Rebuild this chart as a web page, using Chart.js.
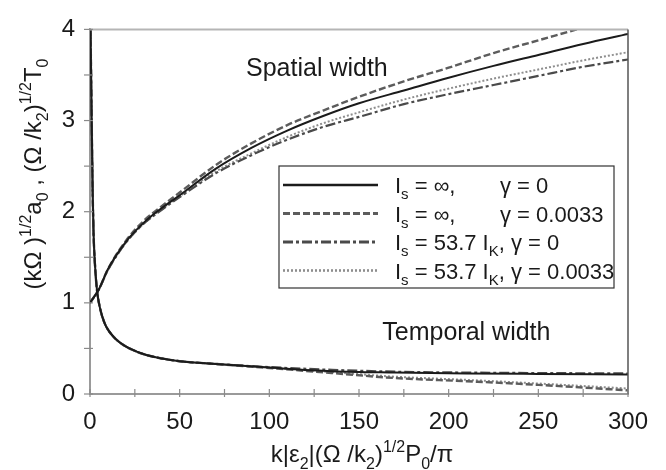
<!DOCTYPE html>
<html>
<head>
<meta charset="utf-8">
<script src="https://cdn.jsdelivr.net/npm/chart.js@4.4.1/dist/chart.umd.min.js"></script>
<style>
  html, body { margin: 0; padding: 0; background: #fff; }
  #wrap { width: 666px; height: 470px; }
</style>
</head>
<body>
<div id="wrap"><canvas id="chart" width="666" height="470"></canvas></div>
<script>
// ---- data ----
const xSpatial = [0, 5, 10, 20, 30, 40, 50, 70, 90, 110, 130, 150, 175, 200, 225, 250, 275, 300];
const spatialSolid   = [1.0, 1.15, 1.37, 1.67, 1.88, 2.04, 2.18, 2.47, 2.70, 2.89, 3.05, 3.19, 3.33, 3.47, 3.60, 3.72, 3.84, 3.95];
const spatialDashed  = [1.0, 1.15, 1.37, 1.68, 1.90, 2.06, 2.21, 2.51, 2.75, 2.95, 3.11, 3.26, 3.43, 3.58, 3.74, 3.88, 4.02, 4.15];
const spatialDashDot = [1.0, 1.15, 1.36, 1.66, 1.87, 2.02, 2.16, 2.42, 2.62, 2.79, 2.93, 3.04, 3.18, 3.29, 3.39, 3.49, 3.59, 3.67];
const spatialDotted  = [1.0, 1.15, 1.36, 1.66, 1.87, 2.03, 2.17, 2.44, 2.64, 2.82, 2.97, 3.09, 3.23, 3.35, 3.46, 3.56, 3.66, 3.75];

const xTemporal = [0.3, 1, 1.5, 2, 3, 4, 5.5, 7, 9, 13, 17, 22, 31, 40, 50, 70, 100, 135, 170, 210, 250, 300];
const temporalSolid   = [4.0, 2.9, 2.2, 1.75, 1.35, 1.12, 0.95, 0.84, 0.74, 0.63, 0.56, 0.50, 0.43, 0.39, 0.36, 0.33, 0.29, 0.25, 0.235, 0.225, 0.22, 0.215];
const temporalDashed  = [4.0, 2.9, 2.2, 1.75, 1.35, 1.12, 0.95, 0.84, 0.74, 0.63, 0.56, 0.50, 0.43, 0.39, 0.36, 0.33, 0.285, 0.23, 0.175, 0.14, 0.10, 0.04];
const temporalDashDot = [4.0, 2.9, 2.2, 1.75, 1.35, 1.12, 0.95, 0.84, 0.74, 0.63, 0.56, 0.50, 0.43, 0.39, 0.36, 0.33, 0.295, 0.265, 0.245, 0.235, 0.23, 0.225];
const temporalDotted  = [4.0, 2.9, 2.2, 1.75, 1.35, 1.12, 0.95, 0.84, 0.74, 0.63, 0.56, 0.50, 0.43, 0.39, 0.36, 0.33, 0.29, 0.24, 0.19, 0.155, 0.115, 0.06];

const xTickStep = 25, xLabelStep = 50;
const yTickStep = 0.5;

// rich text pieces: [text, kind]  kind: '' | 'sub' | 'sup' | 'tab'
const legendLabels = [
  [['I', ''], ['s', 'sub'], [' = \u221E,', ''], ['', 'tab'], ['\u03B3 = 0', '']],
  [['I', ''], ['s', 'sub'], [' = \u221E,', ''], ['', 'tab'], ['\u03B3 = 0.0033', '']],
  [['I', ''], ['s', 'sub'], [' = 53.7 I', ''], ['K', 'sub'], [', \u03B3 = 0', '']],
  [['I', ''], ['s', 'sub'], [' = 53.7 I', ''], ['K', 'sub'], [', \u03B3 = 0.0033', '']]
];
const xTitle = [['k|\u03B5', ''], ['2', 'sub'], ['|(\u03A9 /k', ''], ['2', 'sub'], [')', ''], ['1/2', 'sup'], ['P', ''], ['0', 'sub'], ['/\u03C0', '']];
const yTitle = [['(k\u03A9 )', ''], ['1/2', 'sup'], ['a', ''], ['0', 'sub'], [' , (\u03A9 /k', ''], ['2', 'sub'], [')', ''], ['1/2', 'sup'], ['T', ''], ['0', 'sub']];
const annotations = [
  { text: 'Spatial width', x: 87, y: 3.49 },
  { text: 'Temporal width', x: 163, y: 0.59 }
];

const FONT = '"Liberation Sans", Arial, Helvetica, sans-serif';

const styles = [
  { color: '#1b1b1b', dash: [], width: 2 },
  { color: '#5c5c5c', dash: [7, 3], width: 2.4 },
  { color: '#4a4a4a', dash: [10, 3, 3, 3], width: 2.2 },
  { color: '#8e8e8e', dash: [2, 2], width: 2 }
];

function pts(xs, ys) {
  return xs.map((x, i) => ({ x: x, y: ys[i] }));
}

function makeSet(xs, ys, s) {
  return {
    data: pts(xs, ys),
    borderColor: s.color,
    borderDash: s.dash,
    borderWidth: s.width,
    pointRadius: 0,
    fill: false,
    cubicInterpolationMode: 'monotone'
  };
}

const spatial = [spatialSolid, spatialDashed, spatialDashDot, spatialDotted];
const temporal = [temporalSolid, temporalDashed, temporalDashDot, temporalDotted];
const datasets = [];
styles.forEach((s, i) => {
  datasets.push(makeSet(xSpatial, spatial[i], s));
  datasets.push(makeSet(xTemporal, temporal[i], s));
});

function richWidth(ctx, segs, size) {
  let w = 0;
  segs.forEach(([t, k]) => {
    if (k === 'tab') return;
    ctx.font = ((k === 'sub' || k === 'sup') ? Math.round(size * 0.68) : size) + 'px ' + FONT;
    w += ctx.measureText(t).width;
  });
  return w;
}

function drawRich(ctx, segs, x, y, size, tabX) {
  let cx = x;
  ctx.textBaseline = 'alphabetic';
  ctx.textAlign = 'left';
  segs.forEach(([t, k]) => {
    if (k === 'tab') { cx = tabX; return; }
    let dy = 0, sz = size;
    if (k === 'sub') { sz = Math.round(size * 0.68); dy = size * 0.28; }
    if (k === 'sup') { sz = Math.round(size * 0.68); dy = -size * 0.42; }
    ctx.font = sz + 'px ' + FONT;
    ctx.fillText(t, cx, y + dy);
    cx += ctx.measureText(t).width;
  });
}

// frame, inner ticks, titles, annotations, legend
const decor = {
  id: 'decor',
  afterDatasetsDraw(chart) {
    const ctx = chart.ctx;
    const a = chart.chartArea;
    const xs = chart.scales.x, ys = chart.scales.y;
    ctx.save();

    // top and right frame
    ctx.strokeStyle = '#b5b5b5';
    ctx.lineWidth = 2;
    ctx.beginPath(); ctx.moveTo(a.left, a.top); ctx.lineTo(a.right, a.top); ctx.stroke();
    ctx.strokeStyle = '#555';
    ctx.lineWidth = 1.5;
    ctx.beginPath(); ctx.moveTo(a.right, a.top); ctx.lineTo(a.right, a.bottom); ctx.stroke();

    // tick marks crossing the axes
    ctx.strokeStyle = '#8a8a8a';
    ctx.lineWidth = 1.2;
    xs.ticks.forEach(t => {
      const px = xs.getPixelForValue(t.value);
      ctx.beginPath(); ctx.moveTo(px, a.bottom - 5); ctx.lineTo(px, a.bottom + 3); ctx.stroke();
    });
    ys.ticks.forEach(t => {
      const py = ys.getPixelForValue(t.value);
      ctx.beginPath(); ctx.moveTo(a.left - 6, py); ctx.lineTo(a.left + 3, py); ctx.stroke();
    });

    ctx.fillStyle = '#1a1a1a';

    // annotations
    ctx.font = '25px ' + FONT;
    ctx.textAlign = 'left';
    ctx.textBaseline = 'alphabetic';
    annotations.forEach(n => {
      ctx.fillText(n.text, xs.getPixelForValue(n.x), ys.getPixelForValue(n.y));
    });

    // x title
    const xw = richWidth(ctx, xTitle, 24);
    drawRich(ctx, xTitle, 362 - xw / 2, 462, 24);

    // y title (rotated)
    ctx.save();
    ctx.translate(41, 174);
    ctx.rotate(-Math.PI / 2);
    const yw = richWidth(ctx, yTitle, 24);
    drawRich(ctx, yTitle, -yw / 2, 0, 24);
    ctx.restore();

    // legend
    const L = { x: 279, y: 166, w: 335, h: 122 };
    ctx.fillStyle = '#fff';
    ctx.fillRect(L.x, L.y, L.w, L.h);
    ctx.strokeStyle = '#333';
    ctx.lineWidth = 1.2;
    ctx.strokeRect(L.x, L.y, L.w, L.h);
    legendLabels.forEach((segs, i) => {
      const s = styles[i];
      const cy = L.y + 19 + i * 28.5;
      ctx.strokeStyle = s.color;
      ctx.lineWidth = s.width + 0.6;
      ctx.setLineDash(s.dash);
      ctx.beginPath(); ctx.moveTo(L.x + 4, cy); ctx.lineTo(L.x + 99, cy); ctx.stroke();
      ctx.setLineDash([]);
      ctx.fillStyle = '#1a1a1a';
      drawRich(ctx, segs, L.x + 116, cy + 8, 22, L.x + 221);
    });

    ctx.restore();
  }
};

new Chart(document.getElementById('chart'), {
  type: 'line',
  data: { datasets: datasets },
  options: {
    responsive: false,
    animation: false,
    devicePixelRatio: 1,
    layout: { padding: { left: 0, right: 38, top: 15, bottom: 0 } },
    plugins: {
      legend: { display: false },
      tooltip: { enabled: false }
    },
    scales: {
      x: {
        type: 'linear',
        min: 0,
        max: 300,
        afterFit: s => { s.height = 76; },
        border: { display: true, color: '#9a9a9a', width: 2 },
        grid: { display: true, drawOnChartArea: false, drawTicks: false },
        ticks: {
          stepSize: xTickStep,
          autoSkip: false,
          maxRotation: 0,
          padding: 14,
          color: '#1a1a1a',
          font: { family: FONT, size: 24 },
          callback: v => (v % xLabelStep === 0 ? v : '')
        }
      },
      y: {
        min: 0,
        max: 4,
        afterFit: s => { s.width = 90; },
        border: { display: true, color: '#9a9a9a', width: 2 },
        grid: { display: true, drawOnChartArea: false, drawTicks: false },
        ticks: {
          stepSize: yTickStep,
          autoSkip: false,
          padding: 15,
          color: '#1a1a1a',
          font: { family: FONT, size: 24 },
          callback: v => (Number.isInteger(v) ? v : '')
        }
      }
    }
  },
  plugins: [decor]
});
</script>
</body>
</html>
